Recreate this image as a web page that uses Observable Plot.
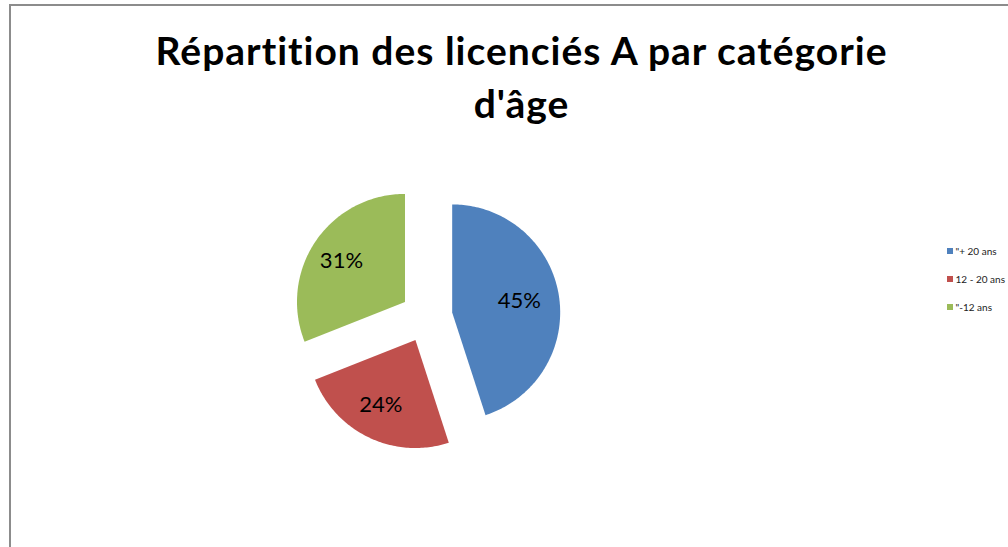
<!DOCTYPE html>
<html>
<head>
<meta charset="utf-8">
<script src="https://cdn.jsdelivr.net/npm/d3@7"></script>
<script src="https://cdn.jsdelivr.net/npm/@observablehq/plot@0.6"></script>
<style>
  html, body { margin: 0; padding: 0; width: 1008px; height: 547px; overflow: hidden; background: #fff; }
  #wrap { position: relative; width: 1008px; height: 547px; }
  #frame { position: absolute; left: 9px; top: 4px; width: 1100px; height: 700px; border: 2px solid #8c8c8c; box-sizing: border-box; }
  #chart { position: absolute; left: 0; top: 0; }
  .ttl text { letter-spacing: 1px; }
</style>
</head>
<body>
<div id="wrap">
  <div id="frame"></div>
  <div id="chart"></div>
</div>
<script>
const titleLines = ["Répartition des licenciés A par catégorie", "d'âge"];
const categories = ["\"+ 20 ans", "12 - 20 ans", "\"-12 ans"];
const values = [45, 24, 31];
const colors = ["#4F81BD", "#C0504D", "#9BBB59"];
const labels = ["45%", "24%", "31%"];

// layout
const W = 1008, H = 547;
const cx = 426, cy = 316, R = 108, explode = 26, labelR = 72;

const arcs = d3.pie().sort(null).value(d => d)(values);
const polys = [];
const labelPts = [];
arcs.forEach((a, i) => {
  const mid = (a.startAngle + a.endAngle) / 2;
  const ox = cx + explode * Math.sin(mid), oy = cy - explode * Math.cos(mid);
  polys.push({x: ox, y: oy, cat: categories[i]});
  const n = Math.max(2, Math.ceil((a.endAngle - a.startAngle) * 180 / Math.PI));
  for (let k = 0; k <= n; k++) {
    const t = a.startAngle + (a.endAngle - a.startAngle) * k / n;
    polys.push({x: ox + R * Math.sin(t), y: oy - R * Math.cos(t), cat: categories[i]});
  }
  polys.push({x: ox, y: oy, cat: categories[i]});
  labelPts.push({x: ox + labelR * Math.sin(mid) - 4, y: oy - labelR * Math.cos(mid), text: labels[i]});
});

const legendX = 947, legendY0 = 251, legendStep = 28;
const legend = categories.map((c, i) => ({cat: c, x: legendX, y: legendY0 + i * legendStep}));

const titleX = 521, titleY0 = 64, titleStep = 53;
const title = titleLines.map((t, i) => ({t, x: titleX, y: titleY0 + i * titleStep}));

const font = "Lato, 'Open Sans', sans-serif";
const plot = Plot.plot({
  width: W, height: H,
  margin: 0,
  x: {domain: [0, W], range: [0, W], axis: null},
  y: {domain: [0, H], range: [0, H], axis: null},
  color: {domain: categories, range: colors},
  style: {background: "transparent", overflow: "visible"},
  marks: [
    Plot.text(title, {x: "x", y: "y", text: "t", fontSize: 39, fontWeight: 700, fill: "#000",
      fontFamily: font, textAnchor: "middle", lineAnchor: "bottom", className: "ttl"}),
    Plot.line(polys, {x: "x", y: "y", z: "cat", fill: "cat", stroke: null, curve: "linear"}),
    Plot.text(labelPts, {x: "x", y: "y", text: "text", fontSize: 22, fill: "#000",
      fontFamily: font, textAnchor: "middle", lineAnchor: "middle"}),
    Plot.rect(legend, {x1: d => d.x, x2: d => d.x + 6, y1: d => d.y - 3, y2: d => d.y + 3, fill: "cat"}),
    Plot.text(legend, {x: d => d.x + 8, y: "y", text: "cat", fontSize: 10, fill: "#222",
      fontFamily: font, textAnchor: "start", lineAnchor: "middle"})
  ]
});
document.getElementById("chart").appendChild(plot);
</script>
</body>
</html>
